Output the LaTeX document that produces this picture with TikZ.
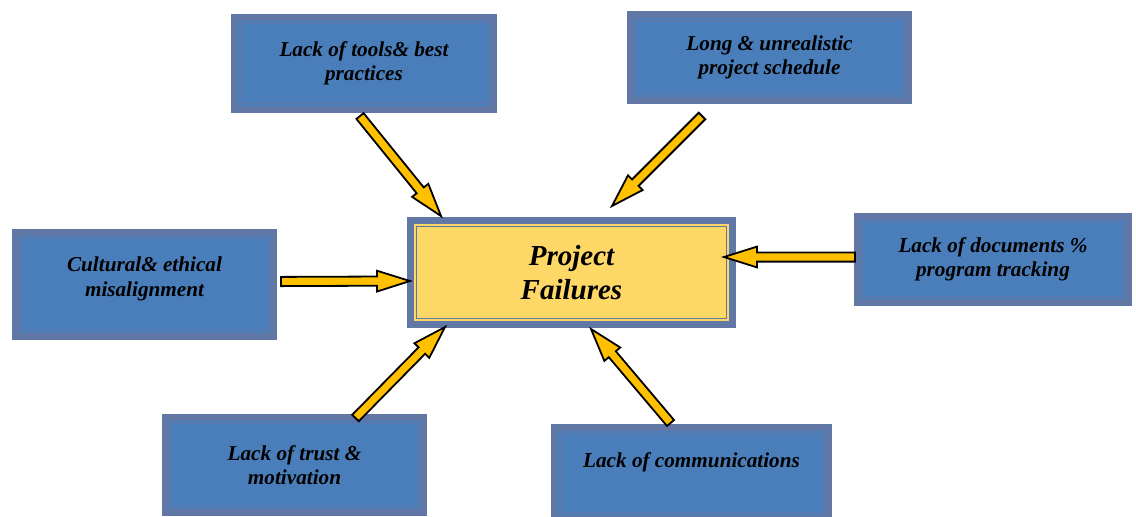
\documentclass[tikz,border=0pt]{standalone}
\usepackage{fontspec}
\setmainfont{Liberation Serif}
\usetikzlibrary{calc}

\definecolor{framegray}{RGB}{97,120,167}
\definecolor{causeblue}{RGB}{74,126,187}
\definecolor{coreyellow}{RGB}{253,216,103}
\definecolor{arrowyellow}{RGB}{255,192,0}

\tikzset{
  framed/.style={draw=framegray, line width=3.5pt, align=center,
    path picture={\draw[framegray, line width=0.75pt]
      ([shift={(3.1pt,-3.1pt)}]path picture bounding box.north west) rectangle
      ([shift={(-3.1pt,3.1pt)}]path picture bounding box.south east);}},
  cause/.style={framed, fill=causeblue, font=\fontsize{10.6}{12.25}\selectfont\bfseries\itshape},
  core/.style={framed, fill=coreyellow, font=\fontsize{14.5}{17}\selectfont\bfseries\itshape},
  % block arrow drawn as a closed outline between the two end points
  fat arrow/.style={draw=black, fill=arrowyellow, line width=0.9pt,
    to path={
      ($(\tikztostart)!2.3pt!90:(\tikztotarget)$)
      -- ($($(\tikztotarget)!16.5pt!(\tikztostart)$)!2.3pt!90:(\tikztotarget)$)
      -- ($($(\tikztotarget)!16.5pt!(\tikztostart)$)!5.2pt!90:(\tikztotarget)$)
      -- (\tikztotarget)
      -- ($($(\tikztotarget)!16.5pt!(\tikztostart)$)!5.2pt!-90:(\tikztotarget)$)
      -- ($($(\tikztotarget)!16.5pt!(\tikztostart)$)!2.3pt!-90:(\tikztotarget)$)
      -- ($(\tikztostart)!2.3pt!-90:(\tikztotarget)$)
      -- cycle}}
}

\begin{document}
\begin{tikzpicture}[x=0.5pt, y=-0.5pt]
  \useasboundingbox (0,0) rectangle (1136,516);

  \node[core, minimum width=161pt, minimum height=52pt] (pf) at (571.5,272.5) {Project\\Failures};

  \node[cause, minimum width=129.5pt, minimum height=46pt] (tools) at (364,63.5) {Lack of tools\& best\\practices};
  \node[cause, minimum width=139pt, minimum height=43pt] (sched) at (769.5,57.5) {Long \& unrealistic\\project schedule};
  \node[cause, minimum width=129pt, minimum height=52pt] (cult) at (144.5,284.5) {Cultural\& ethical\\misalignment\\[-4.25pt]~};
  \node[cause, minimum width=135.5pt, minimum height=43pt] (docs) at (993,259.5) {Lack of documents \%\\program tracking};
  \node[cause, minimum width=129pt, minimum height=47.5pt] (trust) at (294.5,465) {Lack of trust \&\\motivation};
  \node[cause, minimum width=137pt, minimum height=45.5pt] (comm) at (691.5,473) {Lack of communications\\[1pt]~};

  % tails near the causes, heads on the central box
  \coordinate (t1) at ($(tools.south)+(-4,3)$);
  \coordinate (t2) at ($(sched.south)+(-67.5,12)$);
  \coordinate (t3) at ($(cult.east)+(4,-3)$);
  \coordinate (t4) at ($(docs.west)+(1,-2.5)$);
  \coordinate (t5) at ($(trust.north)+(61,4)$);
  \coordinate (t6) at ($(comm.north)+(-21,-1)$);

  \coordinate (h1) at ($(pf.north west)+(34,-1)$);
  \coordinate (h2) at ($(pf.north west)+(205,-11)$);
  \coordinate (h3) at ($(pf.west)+(3,8.5)$);
  \coordinate (h4) at ($(pf.east)+(-12,-15.5)$);
  \coordinate (h5) at ($(pf.south west)+(38,-1)$);
  \coordinate (h6) at ($(pf.south west)+(184,1)$);

  \draw[fat arrow] (t1) to (h1);
  \draw[fat arrow] (t2) to (h2);
  \draw[fat arrow] (t3) to (h3);
  \draw[fat arrow] (t4) to (h4);
  \draw[fat arrow] (t5) to (h5);
  \draw[fat arrow] (t6) to (h6);
\end{tikzpicture}
\end{document}
